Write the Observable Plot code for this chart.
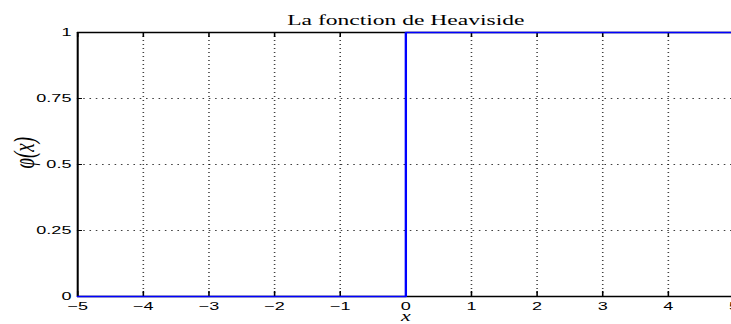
<!DOCTYPE html>
<html>
<head>
<meta charset="utf-8">
<script src="https://cdn.jsdelivr.net/npm/d3@7"></script>
<script src="https://cdn.jsdelivr.net/npm/@observablehq/plot@0.6"></script>
<style>
  html, body { margin: 0; padding: 0; background: white; overflow: hidden; width: 731px; height: 324px; }
  #chart { width: 731px; height: 324px; overflow: hidden; }
</style>
</head>
<body>
<div id="chart"></div>
<script>
// Heaviside step: y = 0 for x < 0, y = 1 for x >= 0
const stepX = [-5, 0, 0, 5];
const stepY = [0, 0, 1, 1];
const xTicks = [-5, -4, -3, -2, -1, 0, 1, 2, 3, 4, 5];
const yTicks = [0, 0.25, 0.5, 0.75, 1];
const yTickLabels = ["0", "0.25", "0.5", "0.75", "1"];
const titleText = "La fonction de Heaviside";
const xLabel = "x";
const yLabel = "φ(x)";

// The reference figure is stretched horizontally; draw at a narrower width and stretch.
const S = 1.57;
const W = 467, H = 324, mL = 49, mR = 0, mT = 32, mB = 28;
const plotW = W - mL - mR, plotH = H - mT - mB;
const step = stepX.map((x, i) => ({x, y: stepY[i]}));
const innerX = xTicks.slice(1, -1);
const innerY = yTicks.slice(1, -1);

const chart = Plot.plot({
  width: W, height: H,
  marginLeft: mL, marginRight: mR, marginTop: mT, marginBottom: mB,
  x: {domain: [-5, 5], label: null},
  y: {domain: [0, 1], label: null},
  style: {fontFamily: "'Liberation Sans', Arial, sans-serif", fontSize: "11px", background: "white", overflow: "visible"},
  marks: [
    Plot.gridX(innerX, {stroke: "#000", strokeOpacity: 0.75, strokeDasharray: "1,3"}),
    Plot.gridY(innerY, {stroke: "#000", strokeOpacity: 0.75, strokeDasharray: "1,3"}),
    // tick marks pointing inward
    Plot.ruleX(xTicks, {x: d => d, insetTop: plotH - 5, stroke: "#000"}),
    Plot.ruleX(xTicks, {x: d => d, insetBottom: plotH - 5, stroke: "#000"}),
    Plot.ruleY(yTicks, {y: d => d, insetRight: plotW - 3.2, stroke: "#000"}),
    // box
    Plot.ruleY([0, 1], {stroke: "#000", strokeWidth: 1.4}),
    Plot.ruleX([-5, 5], {stroke: "#000", strokeWidth: 1.3}),
    Plot.axisX(xTicks, {tickSize: 0, tickPadding: 5, fontSize: 11.5, label: null}),
    Plot.axisY(yTicks, {tickSize: 0, tickPadding: 4, fontSize: 11.5, label: null,
      tickFormat: d => yTickLabels[yTicks.indexOf(d)]}),
    Plot.line(step, {x: "x", y: "y", stroke: "#0000ff", strokeWidth: 1.5}),
    Plot.text([titleText], {frameAnchor: "top", dy: -18, fontFamily: "'Liberation Serif', 'Times New Roman', serif", fontSize: 15, fill: "#000"}),
    Plot.text([xLabel], {frameAnchor: "bottom", dy: 24, fontFamily: "'Liberation Serif', serif", fontStyle: "italic", fontSize: 14, fill: "#000"}),
    Plot.text([yLabel], {frameAnchor: "left", dx: -34, dy: 4, rotate: -90, fontFamily: "'Liberation Serif', serif", fontStyle: "italic", fontSize: 19, fill: "#000"})
  ]
});
chart.style.transformOrigin = "0 0";
chart.style.transform = `scaleX(${S})`;
chart.style.display = "block";
document.getElementById("chart").appendChild(chart);
</script>
</body>
</html>
